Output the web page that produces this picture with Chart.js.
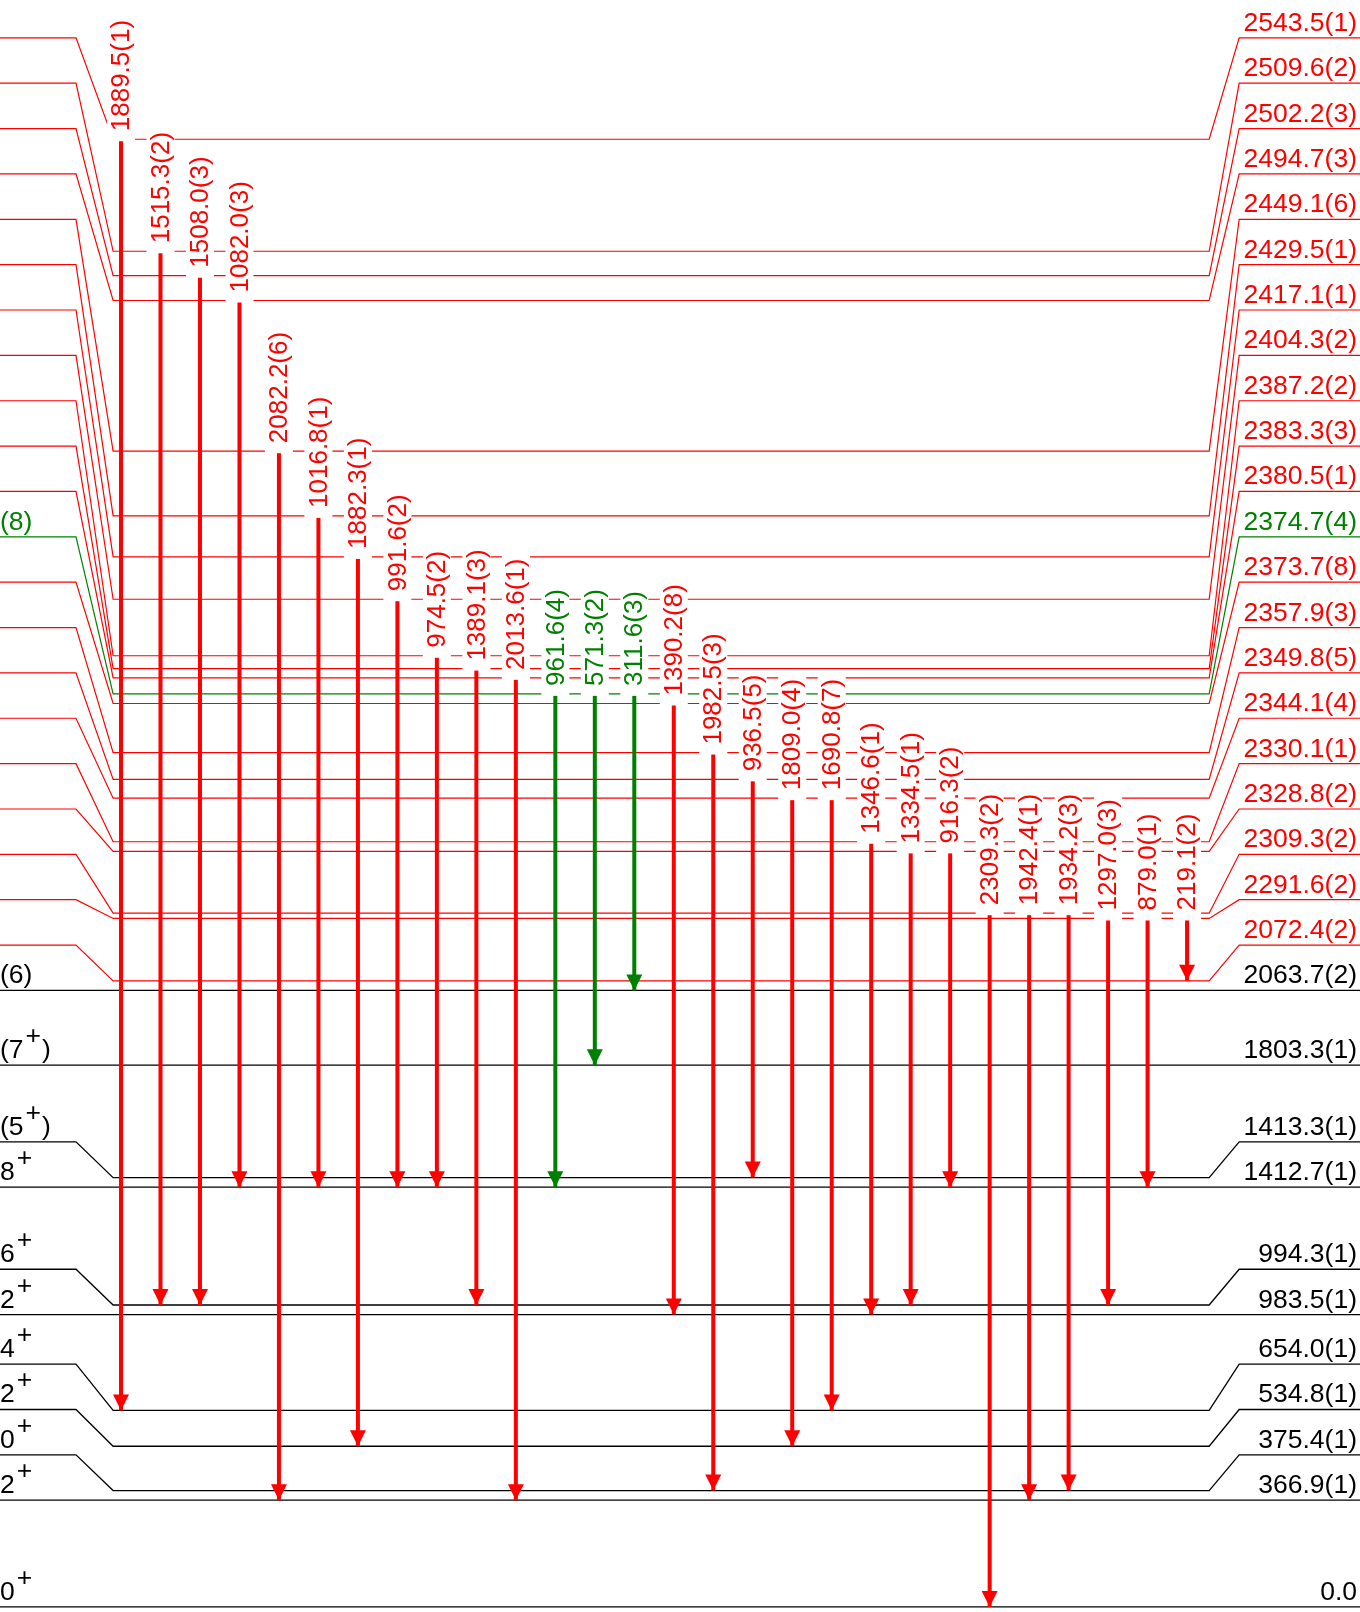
<!DOCTYPE html>
<html>
<head>
<meta charset="utf-8">
<script src="https://cdn.jsdelivr.net/npm/chart.js@4.4.1/dist/chart.umd.min.js"></script>
<style>
  html, body { margin: 0; padding: 0; background: #fff; }
  #wrap { width: 1360px; height: 1612px; }
</style>
</head>
<body>
<div id="wrap"><canvas id="scheme"></canvas></div>
<script>
'use strict';

// levels (keV), bottom to top
const levelEnergy = [0.0, 366.9, 375.4, 534.8, 654.0, 983.5, 994.3, 1412.7, 1413.3, 1803.3, 2063.7,
  2072.4, 2291.6, 2309.3, 2328.8, 2330.1, 2344.1, 2349.8, 2357.9, 2373.7, 2374.7, 2380.5, 2383.3,
  2387.2, 2404.3, 2417.1, 2429.5, 2449.1, 2494.7, 2502.2, 2509.6, 2543.5];
const levelText = ['0.0', '366.9(1)', '375.4(1)', '534.8(1)', '654.0(1)', '983.5(1)', '994.3(1)',
  '1412.7(1)', '1413.3(1)', '1803.3(1)', '2063.7(2)', '2072.4(2)', '2291.6(2)', '2309.3(2)',
  '2328.8(2)', '2330.1(1)', '2344.1(4)', '2349.8(5)', '2357.9(3)', '2373.7(8)', '2374.7(4)',
  '2380.5(1)', '2383.3(3)', '2387.2(2)', '2404.3(2)', '2417.1(1)', '2429.5(1)', '2449.1(6)',
  '2494.7(3)', '2502.2(3)', '2509.6(2)', '2543.5(1)'];
const levelSpin = ['0+', '2+', '0+', '2+', '4+', '2+', '6+', '8+', '(5+)', '(7+)', '(6)',
  '', '', '', '', '', '', '', '', '', '(8)', '', '', '', '', '', '', '', '', '', '', ''];
const levelSet = ['known', 'known', 'known', 'known', 'known', 'known', 'known', 'known', 'known', 'known', 'known',
  'new', 'new', 'new', 'new', 'new', 'new', 'new', 'new', 'new', 'alt', 'new', 'new',
  'new', 'new', 'new', 'new', 'new', 'new', 'new', 'new', 'new'];

// gamma transitions, left to right
const gammaText = ['1889.5(1)', '1515.3(2)', '1508.0(3)', '1082.0(3)', '2082.2(6)', '1016.8(1)', '1882.3(1)',
  '991.6(2)', '974.5(2)', '1389.1(3)', '2013.6(1)', '961.6(4)', '571.3(2)', '311.6(3)', '1390.2(8)',
  '1982.5(3)', '936.5(5)', '1809.0(4)', '1690.8(7)', '1346.6(1)', '1334.5(1)', '916.3(2)', '2309.3(2)',
  '1942.4(1)', '1934.2(3)', '1297.0(3)', '879.0(1)', '219.1(2)'];
const gammaFrom = [2543.5, 2509.6, 2502.2, 2494.7, 2449.1, 2429.5, 2417.1, 2404.3, 2387.2, 2383.3, 2380.5,
  2374.7, 2374.7, 2374.7, 2373.7, 2357.9, 2349.8, 2344.1, 2344.1, 2330.1, 2328.8, 2328.8, 2309.3,
  2309.3, 2309.3, 2291.6, 2291.6, 2291.6];
const gammaTo = [654.0, 994.3, 994.3, 1412.7, 366.9, 1412.7, 534.8, 1412.7, 1412.7, 994.3, 366.9,
  1412.7, 1803.3, 2063.7, 983.5, 375.4, 1413.3, 534.8, 654.0, 983.5, 994.3, 1412.7, 0.0,
  366.9, 375.4, 994.3, 1412.7, 2072.4];
const gammaSet = ['new', 'new', 'new', 'new', 'new', 'new', 'new', 'new', 'new', 'new', 'new',
  'alt', 'alt', 'alt', 'new', 'new', 'new', 'new', 'new', 'new', 'new', 'new', 'new',
  'new', 'new', 'new', 'new', 'new'];

const setColor = { known: '#000000', new: '#ff0000', alt: '#008000' };

// layout: the energy axis is stretched above the break
const BREAK_E = 2309.3;
const STRETCH = 11;
const MIN_GAP = 16;     // levels closer than this are spread apart
const SPREAD = 32;
const SLOT = 151;       // spacing of the level labels
const Y_MIN = -17, Y_MAX = 5349;
const X_MIN = -3.065, X_MAX = 31.38;
const TAB_L = -1.14, LINE_L = -0.2, LINE_R = 27.56, TAB_R = 28.32;

function axisPos(e) {
  return e <= BREAK_E ? e : BREAK_E + (e - BREAK_E) * STRETCH;
}

const levelPos = levelEnergy.map(axisPos);
for (let i = 0; i < levelPos.length - 1; i++) {
  if (levelPos[i + 1] - levelPos[i] < MIN_GAP) {
    const mid = (levelPos[i] + levelPos[i + 1]) / 2;
    levelPos[i] = mid - SPREAD / 2;
    levelPos[i + 1] = mid + SPREAD / 2;
  }
}
const slotPos = [];
levelPos.forEach((p, i) => {
  slotPos.push(i === 0 ? p : Math.max(p, slotPos[i - 1] + SLOT));
});

function posOf(e) {
  return levelPos[levelEnergy.indexOf(e)];
}

const levelSets = levelEnergy.map((e, i) => ({
  data: [
    { x: X_MIN, y: slotPos[i] }, { x: TAB_L, y: slotPos[i] },
    { x: LINE_L, y: levelPos[i] }, { x: LINE_R, y: levelPos[i] },
    { x: TAB_R, y: slotPos[i] }, { x: X_MAX, y: slotPos[i] }
  ],
  showLine: true,
  borderColor: setColor[levelSet[i]],
  borderWidth: levelSet[i] === 'known' ? 1.3 : 1.2,
  pointRadius: 0,
  tension: 0,
  order: 2,
  clip: false
}));

const gammaSets = gammaText.map((t, i) => ({
  data: [{ x: i, y: posOf(gammaFrom[i]) }, { x: i, y: posOf(gammaTo[i]) }],
  showLine: true,
  borderColor: setColor[gammaSet[i]],
  borderWidth: 4,
  pointRadius: 0,
  order: 1,
  clip: false
}));

const FONT = '"Liberation Sans", Arial, sans-serif';

function drawSpin(ctx, s, x, y) {
  for (const ch of s) {
    if (ch === '+') {
      x += 2;
      ctx.fillText('+', x, y - 14);
      x += ctx.measureText('+').width + 1;
    } else {
      ctx.fillText(ch, x, y);
      x += ctx.measureText(ch).width;
    }
  }
}

const schemePlugin = {
  id: 'scheme',
  afterDatasetsDraw(chart) {
    const ctx = chart.ctx;
    const xs = chart.scales.x, ys = chart.scales.y;
    ctx.save();

    // gamma labels on white boxes, and arrow heads
    ctx.font = '26px ' + FONT;
    gammaText.forEach((t, i) => {
      const col = setColor[gammaSet[i]];
      const x = xs.getPixelForValue(i);
      const y0 = ys.getPixelForValue(posOf(gammaFrom[i]));
      const y1 = ys.getPixelForValue(posOf(gammaTo[i]));
      const w = ctx.measureText(t).width;
      ctx.fillStyle = '#ffffff';
      ctx.fillRect(x - 14, y0 - 8 - w - 3, 28, w + 13);
      ctx.save();
      ctx.translate(x + 1, y0 - 8);
      ctx.rotate(-Math.PI / 2);
      ctx.fillStyle = col;
      ctx.textAlign = 'left';
      ctx.textBaseline = 'middle';
      ctx.fillText(t, 0, 0);
      ctx.restore();

      ctx.fillStyle = col;
      ctx.beginPath();
      ctx.moveTo(x, y1);
      ctx.lineTo(x - 8, y1 - 16);
      ctx.lineTo(x + 8, y1 - 16);
      ctx.closePath();
      ctx.fill();
    });

    // level labels
    ctx.font = '26.5px ' + FONT;
    ctx.textBaseline = 'alphabetic';
    levelEnergy.forEach((e, i) => {
      const y = ys.getPixelForValue(slotPos[i]) - 7;
      ctx.fillStyle = setColor[levelSet[i]];
      ctx.textAlign = 'right';
      ctx.fillText(levelText[i], 1357, y);
      ctx.textAlign = 'left';
      if (levelSpin[i]) drawSpin(ctx, levelSpin[i], 0, y);
    });
    ctx.restore();
  }
};

new Chart(document.getElementById('scheme'), {
  type: 'scatter',
  data: { datasets: [...gammaSets, ...levelSets] },
  options: {
    responsive: true,
    maintainAspectRatio: false,
    animation: false,
    devicePixelRatio: 1,
    events: [],
    layout: { padding: 0 },
    plugins: {
      legend: { display: false },
      tooltip: { enabled: false }
    },
    scales: {
      x: { type: 'linear', display: false, min: X_MIN, max: X_MAX, bounds: 'data' },
      y: { type: 'linear', display: false, min: Y_MIN, max: Y_MAX, bounds: 'data' }
    }
  },
  plugins: [schemePlugin]
});
</script>
</body>
</html>
